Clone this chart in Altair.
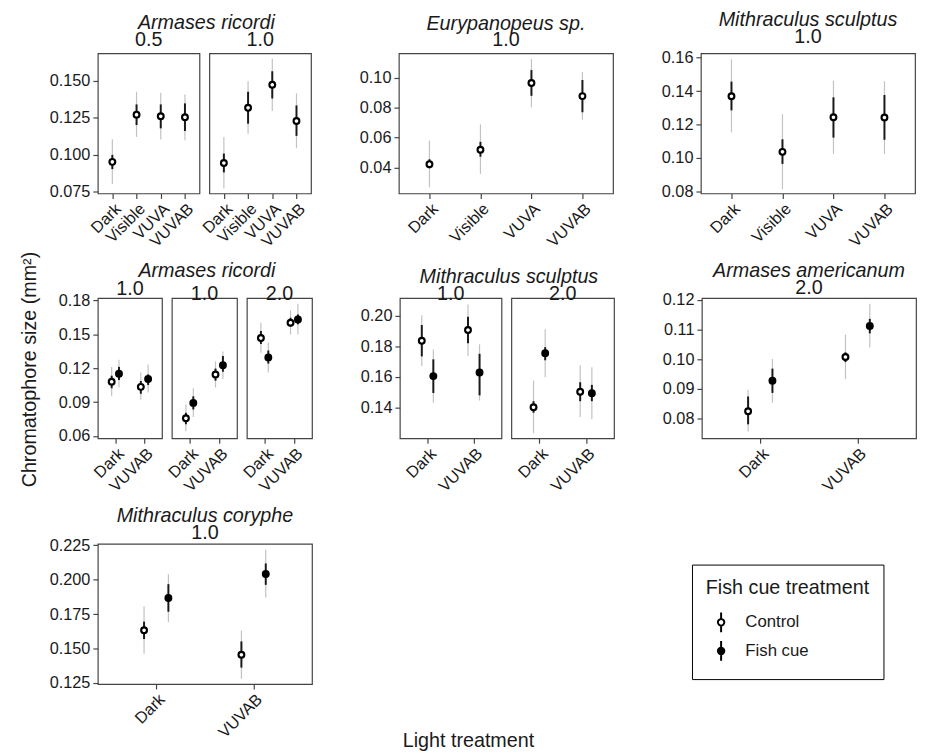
import altair as alt
import pandas as pd

LIGHT4 = ["Dark", "Visible", "VUVA", "VUVAB"]
LIGHT2 = ["Dark", "VUVAB"]
TREATMENTS = ["Control", "Fish cue"]

# ---- observations -------------------------------------------------------
panel = (["r1_ar_05"] * 4 + ["r1_ar_10"] * 4 + ["r1_eu"] * 4 + ["r1_ms"] * 4
         + ["r2_ar_a"] * 4 + ["r2_ar_b"] * 4 + ["r2_ar_c"] * 4
         + ["r2_ms_1"] * 4 + ["r2_ms_2"] * 4 + ["r2_am"] * 4 + ["r3_mc"] * 4)
light = LIGHT4 * 4 + ["Dark", "Dark", "VUVAB", "VUVAB"] * 7
treatment = ["Control"] * 16 + ["Control", "Fish cue"] * 14

mean = [0.0952, 0.1270, 0.1259, 0.1252,
        0.0944, 0.1316, 0.1471, 0.1227,
        0.0422, 0.0518, 0.0965, 0.0877,
        0.1369, 0.1037, 0.1244, 0.1242,
        0.1081, 0.1151, 0.1035, 0.1104,
        0.0757, 0.0893, 0.1145, 0.1226,
        0.1467, 0.1296, 0.1603, 0.1632,
        0.1836, 0.1606, 0.1906, 0.1630,
        0.1404, 0.1755, 0.1504, 0.1494,
        0.0824, 0.0927, 0.1007, 0.1112,
        0.1633, 0.1867, 0.1455, 0.2040]
lo_outer = [0.0803, 0.1120, 0.1102, 0.1098,
            0.0773, 0.1142, 0.1294, 0.1044,
            0.0267, 0.0356, 0.0802, 0.0719,
            0.1154, 0.0814, 0.1025, 0.1025,
            0.0951, 0.1030, 0.0922, 0.0986,
            0.0641, 0.0768, 0.1030, 0.1104,
            0.1337, 0.1163, 0.1499, 0.1499,
            0.1672, 0.1432, 0.1736, 0.1447,
            0.1235, 0.1598, 0.1340, 0.1326,
            0.0756, 0.0853, 0.0933, 0.1039,
            0.1462, 0.1690, 0.1281, 0.1871]
hi_outer = [0.1104, 0.1424, 0.1417, 0.1406,
            0.1120, 0.1495, 0.1647, 0.1413,
            0.0580, 0.0688, 0.1125, 0.1038,
            0.1590, 0.1262, 0.1461, 0.1459,
            0.1212, 0.1276, 0.1163, 0.1232,
            0.0878, 0.1023, 0.1261, 0.1348,
            0.1603, 0.1430, 0.1713, 0.1771,
            0.2002, 0.1779, 0.2072, 0.1813,
            0.1577, 0.1911, 0.1677, 0.1664,
            0.0897, 0.1001, 0.1083, 0.1187,
            0.1807, 0.2038, 0.1629, 0.2219]
lo_inner = [0.0903, 0.1200, 0.1178, 0.1160,
            0.0881, 0.1209, 0.1379, 0.1127,
            0.0395, 0.0472, 0.0879, 0.0769,
            0.1285, 0.0965, 0.1122, 0.1109,
            0.1023, 0.1096, 0.0974, 0.1052,
            0.0704, 0.0835, 0.1090, 0.1169,
            0.1415, 0.1241, 0.1569, 0.1589,
            0.1734, 0.1496, 0.1819, 0.1481,
            0.1368, 0.1709, 0.1443, 0.1443,
            0.0780, 0.0886, 0.0990, 0.1087,
            0.1569, 0.1767, 0.1362, 0.1962]
hi_inner = [0.0999, 0.1339, 0.1339, 0.1346,
            0.1008, 0.1424, 0.1562, 0.1332,
            0.0455, 0.0571, 0.1051, 0.0985,
            0.1457, 0.1112, 0.1363, 0.1377,
            0.1134, 0.1212, 0.1087, 0.1145,
            0.0806, 0.0951, 0.1197, 0.1308,
            0.1530, 0.1357, 0.1647, 0.1676,
            0.1938, 0.1715, 0.1991, 0.1751,
            0.1443, 0.1794, 0.1566, 0.1549,
            0.0874, 0.0968, 0.1023, 0.1136,
            0.1695, 0.1967, 0.1552, 0.2117]

# ---- panel axis settings ------------------------------------------------
y_domains = {
    "r1_ar": [0.0739, 0.1683], "r1_eu": [0.0226, 0.1163], "r1_ms": [0.0788, 0.1626],
    "r2_ar": [0.058, 0.1821], "r2_ms": [0.1202, 0.2113], "r2_am": [0.0733, 0.1206],
    "r3_mc": [0.1243, 0.2259],
}
y_ticks = {
    "r1_ar": [0.075, 0.100, 0.125, 0.150], "r1_eu": [0.04, 0.06, 0.08, 0.10],
    "r1_ms": [0.08, 0.10, 0.12, 0.14, 0.16], "r2_ar": [0.06, 0.09, 0.12, 0.15, 0.18],
    "r2_ms": [0.12, 0.14, 0.16, 0.18, 0.20], "r2_am": [0.08, 0.09, 0.10, 0.11, 0.12],
    "r3_mc": [0.125, 0.150, 0.175, 0.200, 0.225],
}
y_formats = {"r1_ar": ".3f", "r1_eu": ".2f", "r1_ms": ".2f", "r2_ar": ".2f",
             "r2_ms": ".2f", "r2_am": ".2f", "r3_mc": ".3f"}

df = pd.DataFrame({"panel": panel, "light": light, "treatment": treatment,
                   "mean": mean, "lo_outer": lo_outer, "hi_outer": hi_outer,
                   "lo_inner": lo_inner, "hi_inner": hi_inner})
cat_lists = {p: (LIGHT4 if p.startswith("r1") else LIGHT2) for p in df["panel"].unique()}
n_treat = df.groupby("panel")["treatment"].nunique().to_dict()
dodge = {"Control": -0.125, "Fish cue": 0.125}
df["xpos"] = [cat_lists[p].index(l) + 1 + (dodge[t] if n_treat[p] > 1 else 0.0)
              for p, l, t in zip(df["panel"], df["light"], df["treatment"])]

H = 142
YEXT = 52
XEXT = 55
LABEL_FS = 16.5
TXT = "#1a1a1a"
FONT = "Liberation Sans"

LEGEND = alt.Legend(
    title="Fish cue treatment", orient="none", legendX=602, legendY=518,
    titleFontSize=20, titleFont=FONT, titleColor=TXT, titleFontWeight="normal",
    labelFontSize=17, labelFont=FONT, labelColor=TXT,
    symbolType="M0,-2V-0.65M0,0.65V2M-0.65,0A0.65,0.65 0 1,0 0.65,0A0.65,0.65 0 1,0 -0.65,0",
    symbolSize=100, symbolStrokeColor="black", symbolStrokeWidth=2,
    strokeColor="black", padding=14, rowPadding=0, titlePadding=16,
    symbolOffset=7, labelOffset=16,
)


def make_panel(pid, ykey, width, title, show_y=True):
    cats = cat_lists[pid]
    n = len(cats)
    arr = "[" + ",".join("'%s'" % c for c in cats) + "]"
    xax = alt.Axis(values=list(range(1, n + 1)), labelExpr=arr + "[datum.value - 1]",
                   title=None, labelAngle=-45, labelAlign="right", labelBaseline="top",
                   labelOverlap=False, minExtent=XEXT, maxExtent=XEXT, labelPadding=2)
    xenc = alt.X("xpos:Q", scale=alt.Scale(domain=[0.4, n + 0.6], nice=False, zero=False), axis=xax)
    if show_y:
        fmt = y_formats[ykey]
        # a leading figure space keeps every y axis equally wide
        lead = "" if fmt == ".3f" else "\u2007"
        yax = alt.Axis(values=y_ticks[ykey], title=None, labelPadding=3,
                       labelExpr="'%s' + format(datum.value, '%s')" % (lead, fmt),
                       minExtent=YEXT, maxExtent=YEXT)
    else:
        yax = None
    ysc = alt.Scale(domain=y_domains[ykey], nice=False, zero=False)
    base = alt.Chart(df).transform_filter(alt.datum.panel == pid)
    outer = base.mark_rule(color="#c2c2c2", strokeWidth=1.2).encode(
        x=xenc, y=alt.Y("lo_outer:Q", scale=ysc, axis=yax), y2="hi_outer:Q")
    inner = base.mark_rule(color="#1a1a1a", strokeWidth=2).encode(
        x=xenc, y=alt.Y("lo_inner:Q", scale=ysc, axis=yax), y2="hi_inner:Q")
    pts = base.mark_circle(size=34, stroke="black", strokeWidth=2.2, opacity=1).encode(
        x=xenc, y=alt.Y("mean:Q", scale=ysc, axis=yax),
        fill=alt.Fill("treatment:N", scale=alt.Scale(domain=TREATMENTS, range=["white", "black"]),
                      legend=LEGEND))
    return alt.layer(outer, inner, pts).properties(width=width, height=H, title=title)


def num_title(t, off):
    return alt.Title(t, fontSize=20, fontStyle="normal", fontWeight="normal", anchor="middle",
                     frame="group", color=TXT, font=FONT, offset=off)


def sp_title(sp, num, off):
    return alt.Title(sp, subtitle=num, fontSize=20, fontStyle="italic", fontWeight="normal",
                     subtitleFontSize=20, subtitleFontStyle="normal", subtitleFontWeight="normal",
                     subtitleColor=TXT, subtitleFont=FONT, subtitlePadding=-3, anchor="middle",
                     frame="group", color=TXT, font=FONT, offset=off)


def group_title(sp):
    return alt.Title(sp, fontSize=20, fontStyle="italic", fontWeight="normal", anchor="middle",
                     color=TXT, font=FONT, dx=28, offset=-3)


OFF1 = 3    # title offset, first row
OFF23 = -6  # title offset, second and third rows

row1 = alt.hconcat(
    alt.hconcat(make_panel("r1_ar_05", "r1_ar", 103, num_title("0.5", OFF1)),
                make_panel("r1_ar_10", "r1_ar", 103, num_title("1.0", OFF1), show_y=False),
                spacing=10, bounds="flush", title=group_title("Armases ricordi")),
    make_panel("r1_eu", "r1_eu", 217, sp_title("Eurypanopeus sp.", "1.0", OFF1)),
    make_panel("r1_ms", "r1_ms", 217, sp_title("Mithraculus sculptus", "1.0", OFF1)),
    spacing=35,
)
row2 = alt.hconcat(
    alt.hconcat(make_panel("r2_ar_a", "r2_ar", 65, num_title("1.0", OFF23)),
                make_panel("r2_ar_b", "r2_ar", 66, num_title("1.0", OFF23), show_y=False),
                make_panel("r2_ar_c", "r2_ar", 66, num_title("2.0", OFF23), show_y=False),
                spacing=10, bounds="flush", title=group_title("Armases ricordi")),
    alt.hconcat(make_panel("r2_ms_1", "r2_ms", 103, num_title("1.0", OFF23)),
                make_panel("r2_ms_2", "r2_ms", 104, num_title("2.0", OFF23), show_y=False),
                spacing=10, bounds="flush", title=group_title("Mithraculus sculptus")),
    make_panel("r2_am", "r2_am", 217, sp_title("Armases americanum", "2.0", OFF23)),
    spacing=35,
)
row3 = make_panel("r3_mc", "r3_mc", 217, sp_title("Mithraculus coryphe", "1.0", OFF23))

inner = alt.vconcat(row1, row2, row3, spacing=10,
                    title=alt.Title("Chromatophore size  (mm²)", orient="left", anchor="middle",
                                    fontSize=20, fontWeight="normal", color=TXT, font=FONT,
                                    offset=6, dx=6))

chart = alt.vconcat(
    inner, spacing=0,
    title=alt.Title("Light treatment", orient="bottom", anchor="middle", fontSize=20,
                    fontWeight="normal", color=TXT, font=FONT, offset=-10),
).properties(
    padding={"left": 12, "top": -4, "right": 2, "bottom": 0},
).configure(font=FONT).configure_view(
    stroke="#444", strokeWidth=1.2
).configure_axis(
    labelFont=FONT, labelFontSize=LABEL_FS, labelColor=TXT, tickColor="#444", tickWidth=1.2,
    tickSize=5, domain=False, grid=False,
).configure_title(color=TXT, font=FONT)

chart.save("out.html", embed_options={"renderer": "svg", "actions": False})
